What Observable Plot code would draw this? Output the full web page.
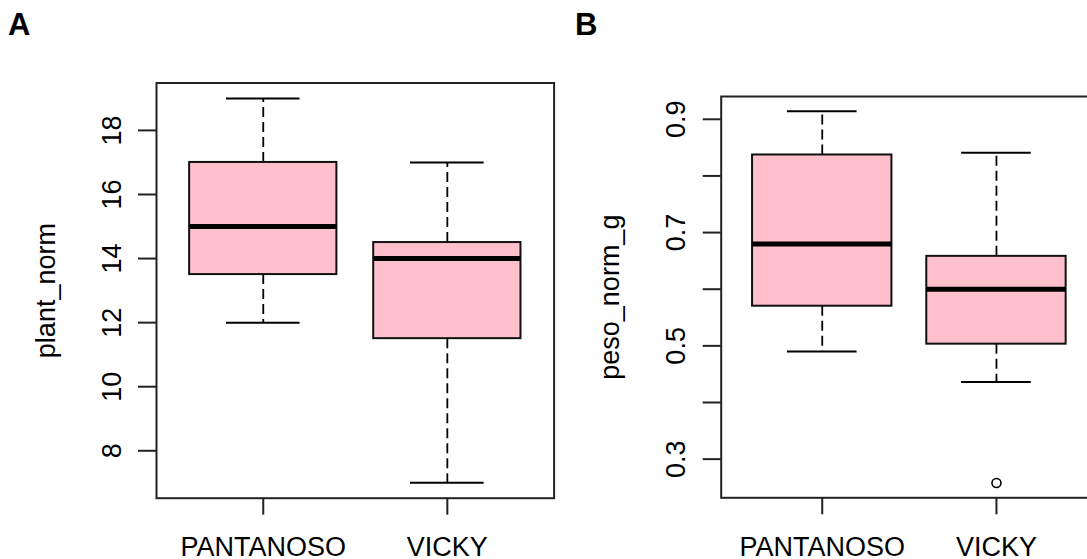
<!DOCTYPE html>
<html><head><meta charset="utf-8">
<script src="https://cdn.jsdelivr.net/npm/d3@7"></script>
<script src="https://cdn.jsdelivr.net/npm/@observablehq/plot@0.6"></script>
<style>
html,body{margin:0;padding:0;background:#fff;overflow:hidden;width:1087px;height:559px;}
#wrap{position:relative;width:1087px;height:559px;overflow:hidden;font-family:"Liberation Sans",Arial,sans-serif;background:#fff;}
.panel{position:absolute;top:0;}
.panel svg{max-width:none !important;display:block;}
.tag{position:absolute;font-weight:bold;font-size:31px;line-height:31px;color:#000;}
</style></head><body>
<div id="wrap">
 <div id="pa" class="panel" style="left:0;width:560px;height:559px"></div>
 <div id="pb" class="panel" style="left:560px;width:547px;height:559px"></div>
 <div class="tag" style="left:8px;top:9px">A</div>
 <div class="tag" style="left:575px;top:9px">B</div>
</div>
<script>
// ---- data ----
const categories = ["PANTANOSO", "VICKY"];

const plantLabel = "plant_norm";
const plantMin = [12, 7];
const plantQ1 = [13.5, 11.5];
const plantMedian = [15, 14];
const plantQ3 = [17, 14.5];
const plantMax = [19, 17];
const plantOutlierCats = [];
const plantOutlierValues = [];
const plantTicks = [8, 10, 12, 14, 16, 18];
const plantTickLabels = ["8", "10", "12", "14", "16", "18"];

const pesoLabel = "peso_norm_g";
const pesoMin = [0.49, 0.436];
const pesoQ1 = [0.57, 0.503];
const pesoMedian = [0.68, 0.60];
const pesoQ3 = [0.837, 0.658];
const pesoMax = [0.914, 0.841];
const pesoOutlierCats = ["VICKY"];
const pesoOutlierValues = [0.258];
const pesoTicks = [0.3, 0.4, 0.5, 0.6, 0.7, 0.8, 0.9];
const pesoTickLabels = ["0.3", "", "0.5", "", "0.7", "", "0.9"];

// ---- drawing ----
const FONT = 27;
function panel(cfg) {
  const rows = categories.map((c, i) => ({
    cat: c, pos: i + 1,
    min: cfg.min[i], q1: cfg.q1[i], median: cfg.median[i], q3: cfg.q3[i], max: cfg.max[i]
  }));
  const outs = cfg.outCats.map((c, i) => ({pos: categories.indexOf(c) + 1, value: cfg.outValues[i]}));
  const all = [...cfg.min, ...cfg.max, ...cfg.outValues];
  const lo = d3.min(all), hi = d3.max(all), ext = (hi - lo) * 0.04;
  const xlo = 0.5, xhi = categories.length + 0.5, xext = (xhi - xlo) * 0.04;
  const tickLab = new Map(cfg.ticks.map((t, i) => [t, cfg.tickLabels[i]]));
  return Plot.plot({
    width: cfg.width, height: cfg.height,
    marginLeft: cfg.ml, marginRight: cfg.mr, marginTop: cfg.mt, marginBottom: cfg.mb,
    style: {fontFamily: '"Liberation Sans", Arial, sans-serif', fontSize: FONT + "px", background: "#fff", color: "#000", maxWidth: "none"},
    x: {type: "linear", domain: [xlo - xext, xhi + xext], axis: null},
    y: {type: "linear", domain: [lo - ext, hi + ext], axis: null},
    marks: [
      Plot.ruleX(rows, {x: "pos", y1: "q3", y2: "max", stroke: "#000", strokeWidth: 1.8, strokeDasharray: "10,5"}),
      Plot.ruleX(rows, {x: "pos", y1: "q1", y2: "min", stroke: "#000", strokeWidth: 1.8, strokeDasharray: "10,5"}),
      Plot.ruleY(rows, {y: "max", x1: d => d.pos - 0.2, x2: d => d.pos + 0.2, stroke: "#000", strokeWidth: 2}),
      Plot.ruleY(rows, {y: "min", x1: d => d.pos - 0.2, x2: d => d.pos + 0.2, stroke: "#000", strokeWidth: 2}),
      Plot.rect(rows, {x1: d => d.pos - 0.4, x2: d => d.pos + 0.4, y1: "q1", y2: "q3", fill: "#FFC0CB", stroke: "#111", strokeWidth: 2}),
      Plot.ruleY(rows, {y: "median", x1: d => d.pos - 0.4, x2: d => d.pos + 0.4, stroke: "#000", strokeWidth: 5}),
      Plot.dot(outs, {x: "pos", y: "value", r: 4.5, stroke: "#000", fill: "none", strokeWidth: 1.6}),
      Plot.frame({stroke: "#222", strokeWidth: 2}),
      Plot.axisY(cfg.ticks, {tickSize: 18, tickPadding: 18, tickRotate: -90, textAnchor: "middle", lineAnchor: "bottom",
        tickFormat: t => tickLab.get(t), fontSize: FONT, stroke: "#222", strokeWidth: 2, fill: "#000", label: null}),
      Plot.axisX(rows.map(r => r.pos), {tickSize: 17, tickPadding: 22,
        tickFormat: p => categories[p - 1], fontSize: FONT, stroke: "#222", strokeWidth: 2, fill: "#000", label: null}),
      Plot.text([cfg.label], {frameAnchor: "left", dx: -102, rotate: -90, textAnchor: "middle", lineAnchor: "bottom",
        fontSize: FONT, fill: "#000"})
    ]
  });
}

document.getElementById("pa").append(panel({
  width: 560, height: 559, ml: 156, mr: 6.4, mt: 82.5, mb: 61.3,
  min: plantMin, q1: plantQ1, median: plantMedian, q3: plantQ3, max: plantMax,
  outCats: plantOutlierCats, outValues: plantOutlierValues,
  ticks: plantTicks, tickLabels: plantTickLabels, label: plantLabel
}));
document.getElementById("pb").append(panel({
  width: 547, height: 559, ml: 160.7, mr: 10, mt: 96, mb: 61.7,
  min: pesoMin, q1: pesoQ1, median: pesoMedian, q3: pesoQ3, max: pesoMax,
  outCats: pesoOutlierCats, outValues: pesoOutlierValues,
  ticks: pesoTicks, tickLabels: pesoTickLabels, label: pesoLabel
}));
</script>
</body></html>
